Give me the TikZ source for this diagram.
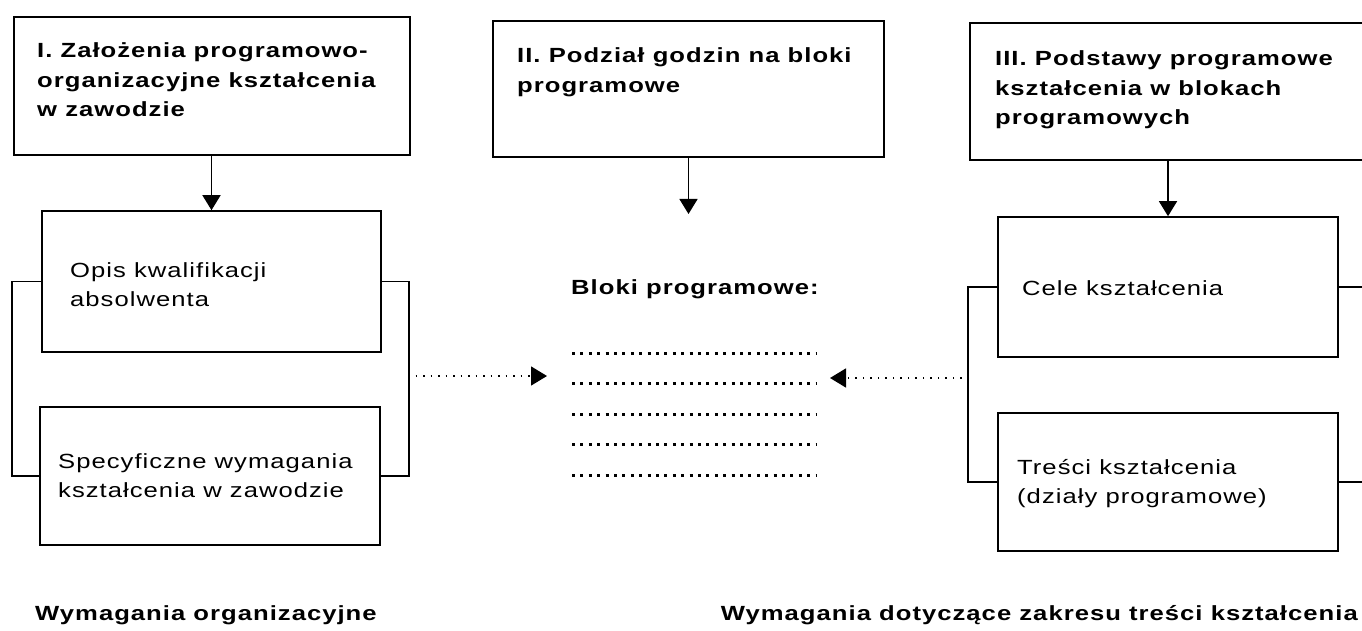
\documentclass[tikz,border=0pt]{standalone}
\usepackage{fontspec}
\setmainfont{Liberation Sans}[FakeStretch=1.25,LetterSpace=5]
\usetikzlibrary{arrows.meta,calc}
\begin{document}
\begin{tikzpicture}[x=1pt,y=-1pt,
  box/.style={draw,line width=1.6pt,inner sep=0pt},
  txt/.style={inner sep=0pt,align=left,font=\fontsize{20.5}{29}\selectfont},
  ttl/.style={inner sep=0pt,align=left,font=\fontsize{20.5}{29.5}\selectfont\bfseries},
  down/.style={line width=1.5pt,-{Triangle[length=15pt,width=18pt]}},
  link/.style={line width=1.6pt},
  dotarrow/.style={line width=1.5pt,dash pattern=on 1.5pt off 6pt,-{Triangle[length=16pt,width=19pt]}},
  dotrow/.style={line width=3pt,dash pattern=on 3pt off 5.4pt}
]
\useasboundingbox (0,0) rectangle (1362,631);
\clip (0,0) rectangle (1362,631);

% --- column I: organisational requirements
\node[box,minimum width=396,minimum height=138] (b1) at (212,86) {};
\node[ttl,anchor=north west] (t1) at (37,38)
  {\rule{0pt}{19.5pt}I. Założenia programowo-\\organizacyjne kształcenia\\w zawodzie};
\node[box,minimum width=339,minimum height=141] (opis) at (211.5,281.5) {};
\node[txt,anchor=west] (topis) at (70,285) {Opis kwalifikacji\\absolwenta};
\node[box,minimum width=340,minimum height=138] (spec) at (210,476) {};
\node[txt,anchor=west] (tspec) at (58,476) {Specyficzne wymagania\\kształcenia w zawodzie};
\draw[down] (b1.south -| opis.north) -- (opis.north);
\draw[link] (opis.west) -- ++(-29,0) |- (spec.west);
\draw[link] (opis.east) -- ++(27,0) |- (spec.east);
\coordinate (jL) at (408,376);

% --- column II: hours per programme block
\node[box,minimum width=391,minimum height=136] (b2) at (688.5,89) {};
\node[ttl,anchor=north west] (t2) at (517,43)
  {\rule{0pt}{19.5pt}II. Podział godzin na bloki\\programowe};
\coordinate (a2) at (688.5,214);
\draw[down] (b2.south) -- (a2);
\node[ttl,anchor=base west] (bloki) at (571,294) {Bloki programowe:};
\foreach \yy in {353,383.5,414,444.5,475}
  \draw[dotrow] (572,\yy) -- (817,\yy);
\coordinate (tipL) at (547,376);
\coordinate (tipR) at (830,378);

% --- column III: programme bases in blocks
\node[box,minimum width=430,minimum height=137] (b3) at (1185,91.5) {};
\node[ttl,anchor=north west] (t3) at (995,46)
  {\rule{0pt}{19.5pt}III. Podstawy programowe\\kształcenia w blokach\\programowych};
\node[box,minimum width=340,minimum height=140] (cele) at (1168,287) {};
\node[txt,anchor=west] (tcele) at (1022,288) {Cele kształcenia};
\node[box,minimum width=340,minimum height=138] (tresci) at (1168,482) {};
\node[txt,anchor=west] (ttresci) at (1017,484) {Treści kształcenia\\(działy programowe)};
\draw[down] (b3.south -| cele.north) -- (cele.north);
\draw[link] (cele.west) -- ++(-29,0) |- (tresci.west);
\draw[link] (cele.east) -- ++(40,0) |- (tresci.east);
\coordinate (jR) at (969,378);

% --- links into the block list
\draw[dotarrow] (jL) -- (tipL);
\draw[dotarrow] (jR) -- (tipR);

% --- captions
\node[ttl,anchor=base west] (capL) at (35,620) {Wymagania organizacyjne};
\node[ttl,anchor=base east] (capR) at (1358,620) {Wymagania dotyczące zakresu treści kształcenia};
\end{tikzpicture}
\end{document}
